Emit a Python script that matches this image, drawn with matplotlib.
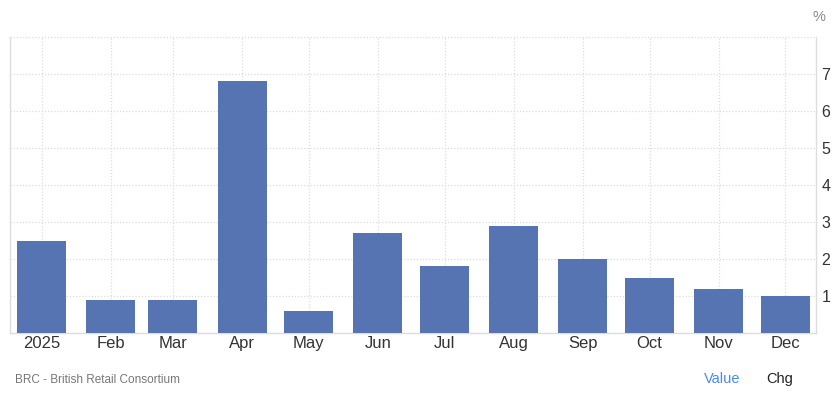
import matplotlib
matplotlib.use("Agg")
import matplotlib.pyplot as plt
import numpy as np
import datetime as dt

plt.rcParams['font.family'] = ['Liberation Sans', 'DejaVu Sans']

months = ["2025", "Feb", "Mar", "Apr", "May", "Jun", "Jul", "Aug", "Sep", "Oct", "Nov", "Dec"]
values = [2.5, 0.9, 0.9, 6.8, 0.6, 2.7, 1.8, 2.9, 2.0, 1.5, 1.2, 1.0]
dates = [dt.date(2025, m, 1) for m in range(1, 13)]
y_ticks = [1, 2, 3, 4, 5, 6, 7]

x = np.array([(d - dates[0]).days for d in dates], dtype=float)

fig = plt.figure(figsize=(8.37, 3.98), dpi=100)
ax = fig.add_axes([9.5/837, 1-333/398, (816-9.5)/837, (333-37)/398])

ax.bar(x, values, width=22, color="#5574b1", zorder=3)

ax.set_xlim(-14.4, 347.7)
ax.set_ylim(0, 8)
ax.set_xticks(x)
ax.set_xticklabels(months)
ax.set_yticks(y_ticks)
ax.set_yticklabels([str(t) for t in y_ticks])
ax.yaxis.tick_right()
ax.tick_params(axis='x', length=0, pad=2, labelsize=12, colors="#333333")
ax.tick_params(axis='y', length=0, pad=4, labelsize=11.5, colors="#333333")

ax.grid(True, which='major', axis='x', color="#dddddd", linestyle=(0, (1, 1.5)), linewidth=0.9, zorder=0)
for yv in range(1, 9):
    ax.axhline(yv, color="#dddddd", linestyle=(0, (1, 1.5)), linewidth=0.9, zorder=0)

for s in ["left", "right", "bottom"]:
    ax.spines[s].set_color("#dddddd")
    ax.spines[s].set_linewidth(1.0)
ax.spines["top"].set_visible(False)

fig.text(813/837, 1-17/398, "%", ha="left", va="center", fontsize=10.5, color="#888888")
fig.text(15/837, 1-380/398, "BRC - British Retail Consortium", ha="left", va="center", fontsize=8.5, color="#777777")
fig.text(704/837, 1-379/398, "Value", ha="left", va="center", fontsize=10.5, color="#4a8af4")
fig.text(766/837, 1-379/398, "Chg", ha="left", va="center", fontsize=10.5, color="#222222")

fig.savefig("out.png", dpi=100)
